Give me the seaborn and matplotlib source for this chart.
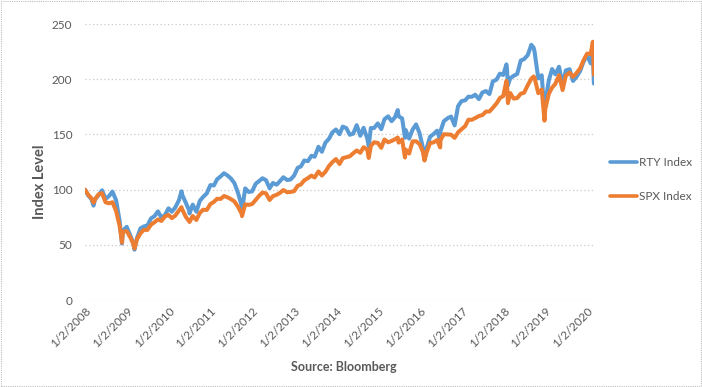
import pandas as pd
import matplotlib
matplotlib.use("Agg")
import matplotlib.pyplot as plt
import seaborn as sns
from matplotlib.patches import Rectangle

# index levels rebased to 100 on 1/2/2008, month ends Jan 2008 .. Feb 2020
start_date = "2008-01-02"
rty_monthly = [
    94.7, 91.1, 91.4, 95.0, 99.4, 91.6, 94.3, 98.2, 90.3, 71.4, 62.8, 66.3,
    58.9, 51.7, 56.1, 64.8, 66.6, 67.5, 73.9, 76.0, 80.3, 74.7, 77.0, 83.1,
    80.0, 83.5, 90.1, 95.2, 88.1, 80.9, 86.4, 80.0, 89.8, 93.4, 96.6, 104.1,
    103.8, 109.4, 112.0, 114.9, 112.7, 109.9, 105.9, 96.5, 85.6, 101.1, 97.9, 98.4,
    105.3, 107.7, 110.3, 108.5, 101.2, 106.0, 104.5, 107.9, 111.2, 108.7, 109.2, 112.8,
    119.8, 121.0, 126.4, 125.8, 130.7, 129.8, 138.8, 134.3, 142.6, 146.1, 151.8, 154.5,
    150.2, 157.1, 155.8, 149.7, 150.7, 158.4, 148.8, 156.0, 146.3, 155.8, 155.8, 160.0,
    154.8, 163.8, 166.4, 162.0, 165.5, 166.5, 164.5, 154.0, 146.2, 154.3, 159.1, 150.9,
    137.5, 137.3, 148.0, 150.2, 153.4, 153.0, 162.0, 164.7, 166.2, 158.2, 175.6, 180.2,
    180.9, 184.2, 184.1, 186.0, 182.0, 188.0, 189.3, 186.6, 198.0, 199.6, 205.1, 203.9,
    209.2, 200.9, 203.1, 204.8, 217.0, 218.2, 221.9, 231.2, 225.3, 200.7, 203.6, 179.1,
    199.1, 209.2, 204.5, 211.3, 194.6, 208.0, 209.1, 198.5, 202.3, 207.5, 215.7, 221.6,
    214.4, 196.1,
]
spx_monthly = [
    95.3, 92.0, 91.4, 95.8, 96.8, 88.5, 87.6, 88.6, 80.6, 66.9, 61.9, 62.4,
    57.1, 50.8, 55.1, 60.3, 63.5, 63.5, 68.2, 70.5, 73.0, 71.6, 75.7, 77.1,
    74.2, 76.3, 80.8, 82.0, 75.3, 71.2, 76.1, 72.5, 78.9, 81.8, 81.6, 86.9,
    88.9, 91.7, 91.6, 94.2, 93.0, 91.3, 89.3, 84.2, 78.2, 86.6, 86.2, 86.9,
    90.7, 94.4, 97.3, 96.6, 90.6, 94.1, 95.3, 97.2, 99.6, 97.6, 97.9, 98.6,
    103.5, 104.7, 108.4, 110.4, 112.7, 111.0, 116.5, 112.8, 116.2, 121.4, 124.8, 127.7,
    123.2, 128.5, 129.4, 130.2, 132.9, 135.5, 133.4, 138.4, 136.3, 139.5, 142.9, 142.3,
    137.9, 145.4, 142.9, 144.1, 145.6, 142.6, 145.4, 136.3, 132.7, 143.7, 143.8, 141.2,
    134.1, 133.5, 142.3, 142.7, 144.9, 145.0, 150.2, 150.0, 149.8, 146.9, 151.9, 154.7,
    157.5, 163.3, 163.3, 164.8, 166.7, 167.5, 170.7, 170.8, 174.1, 178.0, 183.0, 184.8,
    195.1, 187.5, 182.5, 183.0, 186.9, 187.8, 194.6, 200.5, 201.4, 187.4, 190.7, 173.2,
    186.9, 192.4, 195.9, 203.6, 190.2, 203.3, 206.0, 202.2, 205.7, 209.9, 217.1, 223.3,
    222.9, 204.1,
]

# intra-month highs and lows visible on the chart
extreme_dates = [
    "2008-03-17", "2008-11-20", "2009-03-09", "2010-04-23", "2010-07-02",
    "2011-10-03", "2014-10-13", "2015-06-23", "2015-08-25", "2016-02-11",
    "2016-06-27", "2018-01-26", "2018-02-08", "2018-09-20", "2018-12-24",
    "2020-02-19",
]
rty_extreme = [85.5, 51.2, 45.6, 98.5, 78.4, 80.9, 139.4, 172.1, 147.0, 126.7,
               144.7, 213.5, 194.4, 228.6, 168.3, 225.0]
spx_extreme = [88.2, 52.0, 46.7, 84.1, 70.7, 76.0, 128.7, 147.2, 129.1, 126.4,
               138.2, 198.5, 178.4, 202.5, 162.5, 234.0]

tick_years = list(range(2008, 2021))

month_ends = pd.date_range("2008-01-31", periods=len(rty_monthly), freq=pd.offsets.BMonthEnd())
dates = [pd.Timestamp(start_date)] + list(month_ends) + [pd.Timestamp(d) for d in extreme_dates]
wide = pd.DataFrame({
    "date": dates,
    "RTY Index": [100.0] + rty_monthly + rty_extreme,
    "SPX Index": [100.0] + spx_monthly + spx_extreme,
}).sort_values("date")
df = wide.melt(id_vars="date", var_name="series", value_name="level")

sns.set_style("white")
plt.rcParams["font.family"] = ["Lato", "DejaVu Sans"]

grey = "#595959"
fig = plt.figure(figsize=(7.02, 3.87), dpi=100)
ax = fig.add_axes([0.121, 0.2248, 0.725, 0.713])

sns.lineplot(data=df, x="date", y="level", hue="series",
             palette={"RTY Index": "#5B9BD5", "SPX Index": "#ED7D31"},
             linewidth=2.9, ax=ax, legend=False)

ax.set_ylim(0, 250)
ax.set_xlim(pd.Timestamp(start_date), wide["date"].max())
ax.set_yticks(range(0, 251, 50))
ax.yaxis.grid(True, color="#C8C8C8", linestyle=(0, (1, 2)), linewidth=0.9)
ax.xaxis.grid(False)
for s in ax.spines.values():
    s.set_visible(False)

ticks = [pd.Timestamp(f"{y}-01-02") for y in tick_years]
ax.set_xticks(ticks)
ax.set_xticklabels([f"1/2/{y}" for y in tick_years], rotation=45, ha="right",
                   rotation_mode="anchor", fontsize=8.5, color=grey)
ax.tick_params(axis="y", labelsize=8.5, labelcolor=grey, length=0, pad=9)
ax.tick_params(axis="x", length=0, pad=4)
ax.set_xlabel("")
ax.set_ylabel("")

fig.text(40 / 702, 1 - 182 / 387, "Index Level", rotation=90, ha="center", va="center",
         fontsize=10.5, fontweight="bold", color=grey)
fig.text(344 / 702, 1 - 367 / 387, "Source: Bloomberg", ha="center", va="center",
         fontsize=9, fontweight="bold", color=grey)

# legend on the right
for label, color, ypix in [("RTY Index", "#5B9BD5", 162), ("SPX Index", "#ED7D31", 196)]:
    yf = 1 - ypix / 387
    fig.add_artist(plt.Line2D([610 / 702, 637 / 702], [yf, yf], color=color, linewidth=2.6))
    fig.text(639 / 702, yf, label, ha="left", va="center", fontsize=8.5, color=grey)

fig.patches.append(Rectangle((0.001, 0.002), 0.997, 0.996, transform=fig.transFigure,
                             fill=False, edgecolor="#BFBFBF", linestyle=(0, (1, 1)), linewidth=0.8))

fig.savefig("out.png", dpi=100)
